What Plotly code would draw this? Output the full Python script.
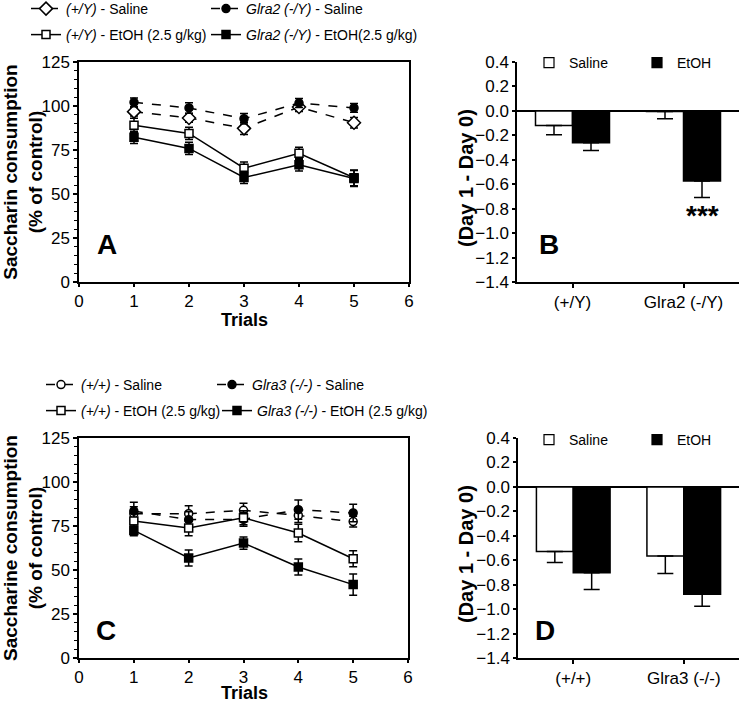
import plotly.graph_objects as go

FONT = "Arial, Liberation Sans, sans-serif"

trials = [1, 2, 3, 4, 5]

# Panel A (Glra2)
a_wt_sal = [96.8, 93.2, 87.3, 99.4, 90.5]
a_wt_sal_err = [2.5, 2.5, 3.5, 2.5, 3.0]
a_ko_sal = [102.1, 98.9, 92.8, 101.7, 98.9]
a_ko_sal_err = [2.5, 3.0, 3.0, 2.5, 2.5]
a_wt_eth = [89.0, 84.4, 64.7, 73.1, 59.2]
a_wt_eth_err = [4.0, 3.5, 3.5, 3.5, 4.5]
a_ko_eth = [82.2, 75.9, 59.4, 66.6, 58.8]
a_ko_eth_err = [3.5, 3.5, 3.5, 3.5, 4.5]

# Panel C (Glra3)
c_wt_sal = [82.0, 82.0, 83.9, 81.0, 77.5]
c_wt_sal_err = [4.0, 4.5, 4.0, 4.0, 3.0]
c_ko_sal = [83.5, 78.6, 78.8, 84.3, 82.4]
c_ko_sal_err = [5.0, 4.5, 4.0, 5.5, 5.0]
c_wt_eth = [77.8, 73.9, 79.7, 71.0, 56.4]
c_wt_eth_err = [4.5, 4.5, 4.0, 5.0, 4.5]
c_ko_eth = [72.5, 56.8, 65.3, 51.7, 41.7]
c_ko_eth_err = [3.0, 4.5, 3.5, 4.5, 6.0]

# Panel B / D
b_groups = ["(+/Y)", "Glra2 (-/Y)"]
b_saline = [-0.12, -0.005]
b_saline_err = [0.075, 0.06]
b_etoh = [-0.26, -0.574]
b_etoh_err = [0.065, 0.135]

d_groups = ["(+/+)", "Glra3 (-/-)"]
d_saline = [-0.528, -0.566]
d_saline_err = [0.09, 0.142]
d_etoh = [-0.703, -0.878]
d_etoh_err = [0.137, 0.099]

y_ticks_line = [0, 25, 50, 75, 100, 125]
x_ticks_line = [0, 1, 2, 3, 4, 5, 6]
y_ticks_bar = [0.4, 0.2, 0.0, -0.2, -0.4, -0.6, -0.8, -1.0, -1.2, -1.4]

W, H = 740, 705


def px_x(p):
    return p / W


def px_y(p):
    return 1 - p / H


fig = go.Figure()


def line_trace(x, y, err, name, symbol, filled, dash, xa, ya, legend):
    return go.Scatter(
        x=x, y=y, name=name, mode="lines+markers",
        xaxis=xa, yaxis=ya, legend=legend,
        line=dict(color="black", width=1.5, dash=dash),
        marker=dict(symbol=symbol, size=8 if symbol != "diamond" else 10,
                    color="black" if filled else "white",
                    line=dict(color="black", width=1.5)),
        error_y=dict(type="data", array=err, visible=True, color="black",
                     thickness=1.5, width=4),
    )


# Panel A traces
fig.add_trace(line_trace(trials, a_wt_sal, a_wt_sal_err, "<i>(+/Y)</i> - Saline",
                         "diamond", False, "dash", "x", "y", "legend2"))
fig.add_trace(line_trace(trials, a_ko_sal, a_ko_sal_err, "<i>Glra2 (-/Y)</i> - Saline",
                         "circle", True, "dash", "x", "y", "legend3"))
fig.add_trace(line_trace(trials, a_wt_eth, a_wt_eth_err, "<i>(+/Y)</i> - EtOH (2.5 g/kg)",
                         "square", False, "solid", "x", "y", "legend4"))
fig.add_trace(line_trace(trials, a_ko_eth, a_ko_eth_err, "<i>Glra2 (-/Y)</i> - EtOH(2.5 g/kg)",
                         "square", True, "solid", "x", "y", "legend5"))

# Panel C traces
fig.add_trace(line_trace(trials, c_wt_sal, c_wt_sal_err, "<i>(+/+)</i> - Saline",
                         "circle", False, "dash", "x3", "y3", "legend8"))
fig.add_trace(line_trace(trials, c_ko_sal, c_ko_sal_err, "<i>Glra3 (-/-)</i> - Saline",
                         "circle", True, "dash", "x3", "y3", "legend9"))
fig.add_trace(line_trace(trials, c_wt_eth, c_wt_eth_err, "<i>(+/+)</i> - EtOH (2.5 g/kg)",
                         "square", False, "solid", "x3", "y3", "legend10"))
fig.add_trace(line_trace(trials, c_ko_eth, c_ko_eth_err, "<i>Glra3 (-/-)</i> - EtOH (2.5 g/kg)",
                         "square", True, "solid", "x3", "y3", "legend11"))


def bar_trace(x, y, err, filled, xa, ya):
    return go.Bar(
        x=x, y=y, xaxis=xa, yaxis=ya, showlegend=False,
        marker=dict(color="black" if filled else "white",
                    line=dict(color="black", width=1.5)),
        error_y=dict(type="data", symmetric=False, array=[0] * len(err),
                     arrayminus=err, visible=True, color="black",
                     thickness=1.5, width=8),
    )


def bar_key(name, filled, xa, ya, legend):
    # legend-only entry (no data drawn)
    return go.Scatter(x=[None], y=[None], name=name, mode="markers",
                      xaxis=xa, yaxis=ya, legend=legend, showlegend=True,
                      marker=dict(symbol="square", size=10,
                                  color="black" if filled else "white",
                                  line=dict(color="black", width=1.2)))


fig.add_trace(bar_trace(b_groups, b_saline, b_saline_err, False, "x2", "y2"))
fig.add_trace(bar_trace(b_groups, b_etoh, b_etoh_err, True, "x2", "y2"))
fig.add_trace(bar_trace(d_groups, d_saline, d_saline_err, False, "x4", "y4"))
fig.add_trace(bar_trace(d_groups, d_etoh, d_etoh_err, True, "x4", "y4"))
fig.add_trace(bar_key("Saline", False, "x2", "y2", "legend6"))
fig.add_trace(bar_key("EtOH", True, "x2", "y2", "legend7"))
fig.add_trace(bar_key("Saline", False, "x4", "y4", "legend12"))
fig.add_trace(bar_key("EtOH", True, "x4", "y4", "legend13"))

axis_common = dict(showline=True, linecolor="black", linewidth=1.5,
                   ticks="outside", tickcolor="black", tickwidth=1.5, ticklen=4,
                   showgrid=False, zeroline=False)

dom_top = [px_y(282), px_y(62)]
dom_bot = [px_y(658), px_y(438)]

line_tick_font = dict(family=FONT, size=17, color="black")
bar_tick_font = dict(family=FONT, size=17, color="black")

line_x = dict(axis_common, range=[0, 6], tickvals=x_ticks_line, mirror=True,
              tickfont=line_tick_font, ticklen=3)
line_y = dict(axis_common, range=[0, 125], tickvals=y_ticks_line, mirror=True,
              tickfont=line_tick_font,
              minor=dict(dtick=5, ticks="outside", ticklen=3, tickwidth=1, tickcolor="black"))
bar_x = dict(axis_common, type="category", range=[-0.5, 1.5], ticklen=4,
             tickfont=dict(family=FONT, size=17, color="black"))
bar_y = dict(axis_common, range=[-1.4, 0.4], tickvals=y_ticks_bar, tickformat=".1f",
             tickfont=bar_tick_font, ticklen=3,
             zeroline=True, zerolinecolor="black", zerolinewidth=1.5)

title_font = dict(family=FONT, size=19, color="black")
trials_font = dict(family=FONT, size=18, color="black")
bar_title_font = dict(family=FONT, size=20, color="black")

fig.update_layout(
    width=W, height=H, margin=dict(l=0, r=0, t=0, b=0, autoexpand=False),
    paper_bgcolor="white", plot_bgcolor="white", showlegend=True,
    barmode="group", bargap=1 / 3, bargroupgap=0,
    xaxis=dict(line_x, domain=[px_x(79), px_x(409)], anchor="y"),
    yaxis=dict(line_y, domain=dom_top, anchor="x",
               title=dict(text="<b>Saccharin consumption<br>(% of control)</b>", font=title_font, standoff=0)),
    xaxis2=dict(bar_x, domain=[px_x(517), px_x(739)], anchor="y2"),
    yaxis2=dict(bar_y, domain=dom_top, anchor="x2"),
    xaxis3=dict(line_x, domain=[px_x(79), px_x(408)], anchor="y3"),
    yaxis3=dict(line_y, domain=dom_bot, anchor="x3",
                title=dict(text="<b>Saccharine consumption<br>(% of control)</b>", font=title_font, standoff=0)),
    xaxis4=dict(bar_x, domain=[px_x(518), px_x(739)], anchor="y4"),
    yaxis4=dict(bar_y, domain=dom_bot, anchor="x4"),
)

# axis titles placed as annotations for exact positioning
for txt, xp, yp, ang, fnt, ya in [
    ("Trials", 244, 320, 0, trials_font, "middle"),
    ("Trials", 244, 705, 0, trials_font, "bottom"),
    ("(Day 1 - Day 0)", 466, 178, -90, bar_title_font, "middle"),
    ("(Day 1 - Day 0)", 466, 554, -90, bar_title_font, "middle"),
]:
    fig.add_annotation(text=f"<b>{txt}</b>", xref="paper", yref="paper",
                       x=px_x(xp), y=px_y(yp), showarrow=False, textangle=ang,
                       font=fnt, xanchor="center", yanchor=ya)

leg_font = dict(family=FONT, size=14, color="black")


def leg(xp, yp):
    return dict(x=px_x(xp), y=px_y(yp), xanchor="left", yanchor="middle",
                font=leg_font, bgcolor="rgba(0,0,0,0)", borderwidth=0,
                itemwidth=30, orientation="v", tracegroupgap=0)


fig.update_layout(
    legend2=leg(26, 9), legend3=leg(206, 9), legend4=leg(26, 35), legend5=leg(206, 35),
    legend6=leg(529, 63), legend7=leg(637, 63),
    legend8=leg(41, 385), legend9=leg(212, 385), legend10=leg(41, 411), legend11=leg(217, 411),
    legend12=leg(529, 440), legend13=leg(637, 440),
)

letter_font = dict(family=FONT, size=28, color="black")
for txt, xp, yp in [("A", 107, 245), ("B", 549, 245), ("C", 106, 630), ("D", 545, 630)]:
    fig.add_annotation(text=f"<b>{txt}</b>", xref="paper", yref="paper",
                       x=px_x(xp), y=px_y(yp), showarrow=False, font=letter_font,
                       xanchor="center", yanchor="middle")

# significance stars below Glra2 EtOH bar
fig.add_annotation(text="<b>***</b>", xref="x2", yref="y2",
                   x=1 + 1 / 6, y=b_etoh[1] - b_etoh_err[1] - 0.15,
                   showarrow=False, yanchor="middle", xanchor="center",
                   font=dict(family=FONT, size=28, color="black"))

fig.write_html("out.html", config={"displayModeBar": False},
               post_script="document.body.style.margin='0';document.body.style.padding='0';")
